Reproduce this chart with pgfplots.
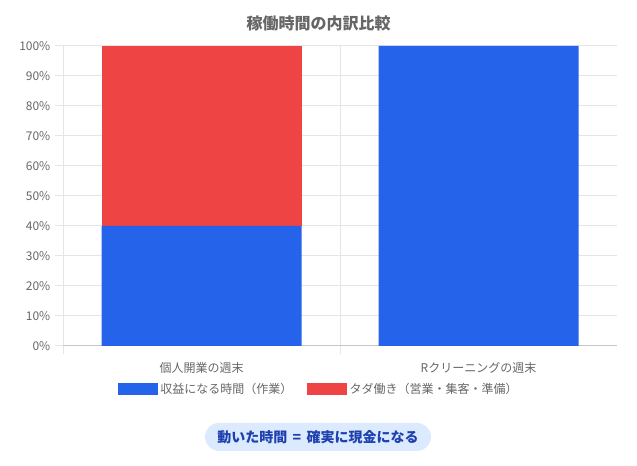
\documentclass[border=0pt]{standalone}
\usepackage{fontspec}
\setmainfont{Noto Sans CJK JP}
\usepackage{pgfplots}
\pgfplotsset{compat=1.18}

\definecolor{workblue}{HTML}{2563EB}
\definecolor{idlered}{HTML}{EF4444}
\definecolor{txtgray}{HTML}{666666}
\definecolor{gridgray}{HTML}{E5E5E5}
\definecolor{badgebg}{HTML}{DBEAFE}
\definecolor{badgetxt}{HTML}{1E40AF}

\begin{document}
\begin{tikzpicture}[x=0.75pt,y=0.75pt]
\useasboundingbox (0,0) rectangle (637,466);
\begin{axis}[
    at={(47.25pt,90pt)}, anchor=south west,
    scale only axis,
    width=415.5pt, height=225pt,
    ybar stacked,
    bar width=150pt,
    xmin=-0.5, xmax=1.5,
    ymin=0, ymax=100,
    xtick={0,1},
    xticklabels={個人開業の週末,Rクリーニングの週末},
    minor xtick={-0.5,0.5},
    ytick={0,10,...,100},
    yticklabel={\pgfmathprintnumber{\tick}\%},
    /pgf/number format/assume math mode=true,
    ymajorgrids, xminorgrids,
    grid style={gridgray, line width=0.75pt},
    minor grid style={gridgray, line width=0.75pt},
    axis x line*=bottom, axis y line*=left,
    x axis line style={draw=gray!45, line width=0.75pt},
    y axis line style={draw=none},
    tick align=outside,
    major tick length=6pt, minor tick length=6pt,
    major x tick style={draw=none},
    minor x tick style={gridgray, line width=0.75pt},
    major y tick style={gridgray, line width=0.75pt},
    ticklabel style={font=\fontsize{9}{11}\selectfont, text=txtgray},
    xticklabel style={yshift=-3pt},
    clip=false,
    legend style={at={(0.462,-0.143)}, anchor=center, draw=none, fill=none,
        legend columns=2, font=\fontsize{9}{11}\selectfont, text=txtgray,
        /tikz/every even column/.append style={column sep=9pt}},
]
\addplot[fill=workblue, draw=none,
    legend image code/.code={\fill[workblue] (0pt,-4.5pt) rectangle (30pt,4.5pt);}]
    coordinates {(0,40) (1,100)};
\addplot[fill=idlered, draw=none,
    legend image code/.code={\fill[idlered] (0pt,-4.5pt) rectangle (30pt,4.5pt);}]
    coordinates {(0,60) (1,0)};
\legend{収益になる時間（作業）,タダ働き（営業・集客・準備）}
\end{axis}
\node[font=\bfseries\fontsize{12}{14}\selectfont, text=txtgray] at (318.5,443) {稼働時間の内訳比較};
\node[fill=badgebg, rounded corners=10.5pt, minimum width=169.5pt, minimum height=21pt,
      inner sep=0pt, text=badgetxt, font=\bfseries\fontsize{10.5}{12}\selectfont]
      at (318,29) {動いた時間\hspace{4pt}=\hspace{4pt}確実に現金になる};
\end{tikzpicture}
\end{document}
